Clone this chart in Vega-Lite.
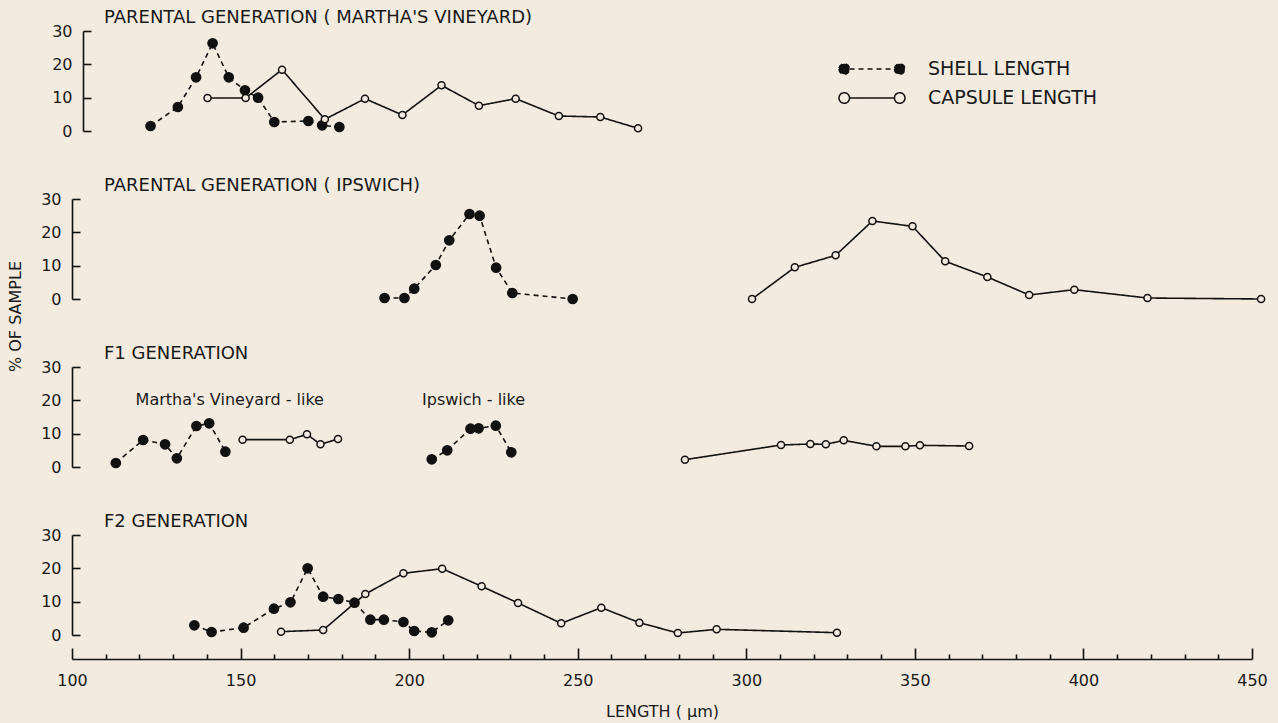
{
  "$schema": "https://vega.github.io/schema/vega-lite/v6.json",
  "background": "#f3ebdf",
  "padding": {"left": 7, "top": 9, "right": 10, "bottom": 4},
  "config": {
    "view": {"stroke": null},
    "font": "DejaVu Sans",
    "axis": {"labelFont": "DejaVu Sans", "titleFont": "DejaVu Sans", "labelColor": "#1a1a1a", "titleColor": "#1a1a1a", "domainColor": "#111", "tickColor": "#111", "domainWidth": 1.6, "tickWidth": 1.6, "titleFontWeight": "normal", "grid": false},
    "title": {"font": "DejaVu Sans", "fontWeight": "normal", "color": "#1a1a1a", "fontSize": 18}
  },
  "datasets": {
    "pts": [
      {"panel": "P1", "measure": "SHELL LENGTH", "group": "a", "length": 123.3, "pct": 1.5},
      {"panel": "P1", "measure": "SHELL LENGTH", "group": "a", "length": 131.4, "pct": 7.2},
      {"panel": "P1", "measure": "SHELL LENGTH", "group": "a", "length": 136.8, "pct": 16.1},
      {"panel": "P1", "measure": "SHELL LENGTH", "group": "a", "length": 141.7, "pct": 26.3},
      {"panel": "P1", "measure": "SHELL LENGTH", "group": "a", "length": 146.5, "pct": 16.1},
      {"panel": "P1", "measure": "SHELL LENGTH", "group": "a", "length": 151.3, "pct": 12.2},
      {"panel": "P1", "measure": "SHELL LENGTH", "group": "a", "length": 155.2, "pct": 10.0},
      {"panel": "P1", "measure": "SHELL LENGTH", "group": "a", "length": 160.0, "pct": 2.7},
      {"panel": "P1", "measure": "SHELL LENGTH", "group": "a", "length": 170.1, "pct": 3.0},
      {"panel": "P1", "measure": "SHELL LENGTH", "group": "a", "length": 174.2, "pct": 1.7},
      {"panel": "P1", "measure": "SHELL LENGTH", "group": "a", "length": 179.3, "pct": 1.2},
      {"panel": "P1", "measure": "CAPSULE LENGTH", "group": "a", "length": 140.2, "pct": 9.9},
      {"panel": "P1", "measure": "CAPSULE LENGTH", "group": "a", "length": 151.5, "pct": 9.9},
      {"panel": "P1", "measure": "CAPSULE LENGTH", "group": "a", "length": 162.3, "pct": 18.4},
      {"panel": "P1", "measure": "CAPSULE LENGTH", "group": "a", "length": 175.0, "pct": 3.5},
      {"panel": "P1", "measure": "CAPSULE LENGTH", "group": "a", "length": 186.9, "pct": 9.7},
      {"panel": "P1", "measure": "CAPSULE LENGTH", "group": "a", "length": 198.0, "pct": 4.8},
      {"panel": "P1", "measure": "CAPSULE LENGTH", "group": "a", "length": 209.6, "pct": 13.7},
      {"panel": "P1", "measure": "CAPSULE LENGTH", "group": "a", "length": 220.7, "pct": 7.6},
      {"panel": "P1", "measure": "CAPSULE LENGTH", "group": "a", "length": 231.6, "pct": 9.7},
      {"panel": "P1", "measure": "CAPSULE LENGTH", "group": "a", "length": 244.4, "pct": 4.5},
      {"panel": "P1", "measure": "CAPSULE LENGTH", "group": "a", "length": 256.7, "pct": 4.2},
      {"panel": "P1", "measure": "CAPSULE LENGTH", "group": "a", "length": 267.9, "pct": 0.8},

      {"panel": "P2", "measure": "SHELL LENGTH", "group": "a", "length": 192.7, "pct": 0.3},
      {"panel": "P2", "measure": "SHELL LENGTH", "group": "a", "length": 198.6, "pct": 0.3},
      {"panel": "P2", "measure": "SHELL LENGTH", "group": "a", "length": 201.5, "pct": 3.1},
      {"panel": "P2", "measure": "SHELL LENGTH", "group": "a", "length": 207.9, "pct": 10.2},
      {"panel": "P2", "measure": "SHELL LENGTH", "group": "a", "length": 211.9, "pct": 17.6},
      {"panel": "P2", "measure": "SHELL LENGTH", "group": "a", "length": 217.9, "pct": 25.5},
      {"panel": "P2", "measure": "SHELL LENGTH", "group": "a", "length": 220.9, "pct": 25.0},
      {"panel": "P2", "measure": "SHELL LENGTH", "group": "a", "length": 225.8, "pct": 9.4},
      {"panel": "P2", "measure": "SHELL LENGTH", "group": "a", "length": 230.6, "pct": 1.8},
      {"panel": "P2", "measure": "SHELL LENGTH", "group": "a", "length": 248.5, "pct": 0.0},
      {"panel": "P2", "measure": "CAPSULE LENGTH", "group": "a", "length": 301.7, "pct": 0.0},
      {"panel": "P2", "measure": "CAPSULE LENGTH", "group": "a", "length": 314.4, "pct": 9.5},
      {"panel": "P2", "measure": "CAPSULE LENGTH", "group": "a", "length": 326.5, "pct": 13.1},
      {"panel": "P2", "measure": "CAPSULE LENGTH", "group": "a", "length": 337.4, "pct": 23.4},
      {"panel": "P2", "measure": "CAPSULE LENGTH", "group": "a", "length": 349.3, "pct": 21.8},
      {"panel": "P2", "measure": "CAPSULE LENGTH", "group": "a", "length": 359.0, "pct": 11.3},
      {"panel": "P2", "measure": "CAPSULE LENGTH", "group": "a", "length": 371.5, "pct": 6.6},
      {"panel": "P2", "measure": "CAPSULE LENGTH", "group": "a", "length": 383.9, "pct": 1.2},
      {"panel": "P2", "measure": "CAPSULE LENGTH", "group": "a", "length": 397.3, "pct": 2.8},
      {"panel": "P2", "measure": "CAPSULE LENGTH", "group": "a", "length": 419.0, "pct": 0.3},
      {"panel": "P2", "measure": "CAPSULE LENGTH", "group": "a", "length": 452.7, "pct": 0.0},

      {"panel": "P3", "measure": "SHELL LENGTH", "group": "mv", "length": 113.0, "pct": 1.2},
      {"panel": "P3", "measure": "SHELL LENGTH", "group": "mv", "length": 121.1, "pct": 8.1},
      {"panel": "P3", "measure": "SHELL LENGTH", "group": "mv", "length": 127.6, "pct": 6.8},
      {"panel": "P3", "measure": "SHELL LENGTH", "group": "mv", "length": 131.1, "pct": 2.6},
      {"panel": "P3", "measure": "SHELL LENGTH", "group": "mv", "length": 136.9, "pct": 12.3},
      {"panel": "P3", "measure": "SHELL LENGTH", "group": "mv", "length": 140.7, "pct": 13.1},
      {"panel": "P3", "measure": "SHELL LENGTH", "group": "mv", "length": 145.5, "pct": 4.6},
      {"panel": "P3", "measure": "CAPSULE LENGTH", "group": "mv", "length": 150.6, "pct": 8.2},
      {"panel": "P3", "measure": "CAPSULE LENGTH", "group": "mv", "length": 164.6, "pct": 8.2},
      {"panel": "P3", "measure": "CAPSULE LENGTH", "group": "mv", "length": 169.7, "pct": 9.8},
      {"panel": "P3", "measure": "CAPSULE LENGTH", "group": "mv", "length": 173.7, "pct": 6.8},
      {"panel": "P3", "measure": "CAPSULE LENGTH", "group": "mv", "length": 178.9, "pct": 8.4},
      {"panel": "P3", "measure": "SHELL LENGTH", "group": "ip", "length": 206.7, "pct": 2.3},
      {"panel": "P3", "measure": "SHELL LENGTH", "group": "ip", "length": 211.3, "pct": 5.0},
      {"panel": "P3", "measure": "SHELL LENGTH", "group": "ip", "length": 218.2, "pct": 11.5},
      {"panel": "P3", "measure": "SHELL LENGTH", "group": "ip", "length": 220.6, "pct": 11.6},
      {"panel": "P3", "measure": "SHELL LENGTH", "group": "ip", "length": 225.7, "pct": 12.4},
      {"panel": "P3", "measure": "SHELL LENGTH", "group": "ip", "length": 230.3, "pct": 4.4},
      {"panel": "P3", "measure": "CAPSULE LENGTH", "group": "ip", "length": 281.8, "pct": 2.2},
      {"panel": "P3", "measure": "CAPSULE LENGTH", "group": "ip", "length": 310.3, "pct": 6.6},
      {"panel": "P3", "measure": "CAPSULE LENGTH", "group": "ip", "length": 319.0, "pct": 6.9},
      {"panel": "P3", "measure": "CAPSULE LENGTH", "group": "ip", "length": 323.6, "pct": 6.8},
      {"panel": "P3", "measure": "CAPSULE LENGTH", "group": "ip", "length": 328.9, "pct": 8.0},
      {"panel": "P3", "measure": "CAPSULE LENGTH", "group": "ip", "length": 338.6, "pct": 6.2},
      {"panel": "P3", "measure": "CAPSULE LENGTH", "group": "ip", "length": 347.2, "pct": 6.2},
      {"panel": "P3", "measure": "CAPSULE LENGTH", "group": "ip", "length": 351.5, "pct": 6.5},
      {"panel": "P3", "measure": "CAPSULE LENGTH", "group": "ip", "length": 366.1, "pct": 6.3},

      {"panel": "P4", "measure": "SHELL LENGTH", "group": "a", "length": 136.3, "pct": 2.9},
      {"panel": "P4", "measure": "SHELL LENGTH", "group": "a", "length": 141.4, "pct": 0.9},
      {"panel": "P4", "measure": "SHELL LENGTH", "group": "a", "length": 150.9, "pct": 2.2},
      {"panel": "P4", "measure": "SHELL LENGTH", "group": "a", "length": 159.9, "pct": 7.9},
      {"panel": "P4", "measure": "SHELL LENGTH", "group": "a", "length": 164.8, "pct": 9.8},
      {"panel": "P4", "measure": "SHELL LENGTH", "group": "a", "length": 169.9, "pct": 20.0},
      {"panel": "P4", "measure": "SHELL LENGTH", "group": "a", "length": 174.5, "pct": 11.5},
      {"panel": "P4", "measure": "SHELL LENGTH", "group": "a", "length": 179.0, "pct": 10.8},
      {"panel": "P4", "measure": "SHELL LENGTH", "group": "a", "length": 183.8, "pct": 9.7},
      {"panel": "P4", "measure": "SHELL LENGTH", "group": "a", "length": 188.5, "pct": 4.6},
      {"panel": "P4", "measure": "SHELL LENGTH", "group": "a", "length": 192.5, "pct": 4.6},
      {"panel": "P4", "measure": "SHELL LENGTH", "group": "a", "length": 198.3, "pct": 3.9},
      {"panel": "P4", "measure": "SHELL LENGTH", "group": "a", "length": 201.5, "pct": 1.2},
      {"panel": "P4", "measure": "SHELL LENGTH", "group": "a", "length": 206.7, "pct": 0.8},
      {"panel": "P4", "measure": "SHELL LENGTH", "group": "a", "length": 211.6, "pct": 4.4},
      {"panel": "P4", "measure": "CAPSULE LENGTH", "group": "a", "length": 162.0, "pct": 1.0},
      {"panel": "P4", "measure": "CAPSULE LENGTH", "group": "a", "length": 174.5, "pct": 1.5},
      {"panel": "P4", "measure": "CAPSULE LENGTH", "group": "a", "length": 187.0, "pct": 12.3},
      {"panel": "P4", "measure": "CAPSULE LENGTH", "group": "a", "length": 198.3, "pct": 18.5},
      {"panel": "P4", "measure": "CAPSULE LENGTH", "group": "a", "length": 209.8, "pct": 19.9},
      {"panel": "P4", "measure": "CAPSULE LENGTH", "group": "a", "length": 221.5, "pct": 14.6},
      {"panel": "P4", "measure": "CAPSULE LENGTH", "group": "a", "length": 232.3, "pct": 9.6},
      {"panel": "P4", "measure": "CAPSULE LENGTH", "group": "a", "length": 245.1, "pct": 3.5},
      {"panel": "P4", "measure": "CAPSULE LENGTH", "group": "a", "length": 257.0, "pct": 8.2},
      {"panel": "P4", "measure": "CAPSULE LENGTH", "group": "a", "length": 268.3, "pct": 3.7},
      {"panel": "P4", "measure": "CAPSULE LENGTH", "group": "a", "length": 279.7, "pct": 0.6},
      {"panel": "P4", "measure": "CAPSULE LENGTH", "group": "a", "length": 291.2, "pct": 1.7},
      {"panel": "P4", "measure": "CAPSULE LENGTH", "group": "a", "length": 326.9, "pct": 0.7}
    ],
    "notes": [
      {"label": "Martha's Vineyard - like", "length": 146.8, "pct": 18.6},
      {"label": "Ipswich - like", "length": 219.1, "pct": 18.6}
    ]
  },
  "bounds": "flush",
  "spacing": 68,
  "resolve": {
    "scale": {"x": "independent", "y": "independent", "strokeDash": "independent", "fill": "independent", "size": "independent"},
    "legend": {"strokeDash": "independent", "fill": "independent", "size": "independent"}
  },
  "vconcat": [
    {
      "width": 1180, "height": 100,
      "title": {"text": "PARENTAL GENERATION ( MARTHA'S VINEYARD)", "anchor": "start", "frame": "group", "dx": 32, "offset": -18, "baseline": "alphabetic"},
      "data": {"name": "pts"},
      "transform": [{"filter": "datum.panel == 'P1'"}],
      "encoding": {
        "x": {"field": "length", "type": "quantitative", "scale": {"domain": [100, 450], "nice": false, "zero": false}, "axis": null},
        "y": {"field": "pct", "type": "quantitative", "scale": {"domain": [0, 30], "nice": false}, "axis": {"values": [0, 10, 20, 30], "title": null, "tickSize": -8, "labelPadding": 19, "labelFontSize": 16, "offset": -11}}
      },
      "layer": [
        {
          "mark": {"type": "line", "stroke": "#111", "strokeWidth": 1.6},
          "encoding": {
            "detail": {"field": "group"},
            "strokeDash": {"field": "measure", "type": "nominal", "scale": {"domain": ["SHELL LENGTH", "CAPSULE LENGTH"], "range": [[5, 4], [1, 0]]},
              "legend": {"title": null, "orient": "none", "legendX": 766, "legendY": 30, "clipHeight": 16, "symbolType": "M-1,0A0.16,0.16,0,1,0,-0.68,0A0.16,0.16,0,1,0,-1,0M-0.68,0L0.68,0M0.68,0A0.16,0.16,0,1,0,1,0A0.16,0.16,0,1,0,0.68,0", "symbolSize": 4356, "symbolStrokeColor": "#111", "symbolStrokeWidth": 1.5, "rowPadding": 10, "labelFontSize": 19, "labelOffset": 22, "labelLimit": 400, "labelColor": "#1a1a1a", "labelFont": "DejaVu Sans"}}
          }
        },
        {
          "transform": [{"filter": "datum.measure == 'SHELL LENGTH'"}],
          "mark": {"type": "point", "filled": true, "stroke": "#111", "strokeWidth": 1.5, "opacity": 1, "size": 85},
          "encoding": {
            "fill": {"field": "measure", "type": "nominal", "scale": {"domain": ["SHELL LENGTH", "CAPSULE LENGTH"], "range": ["#111111", "#f3ebdf"]},
              "legend": {"title": null, "orient": "none", "legendX": 766, "legendY": 30, "clipHeight": 16, "symbolType": "M-1,0A0.16,0.16,0,1,0,-0.68,0A0.16,0.16,0,1,0,-1,0M-0.68,0L0.68,0M0.68,0A0.16,0.16,0,1,0,1,0A0.16,0.16,0,1,0,0.68,0", "symbolSize": 4356, "symbolStrokeColor": "#111", "symbolStrokeWidth": 1.5, "rowPadding": 10, "labelFontSize": 19, "labelOffset": 22, "labelLimit": 400, "labelColor": "#1a1a1a", "labelFont": "DejaVu Sans"}}
          }
        },
        {
          "transform": [{"filter": "datum.measure == 'CAPSULE LENGTH'"}],
          "mark": {"type": "point", "filled": true, "stroke": "#111", "strokeWidth": 1.5, "opacity": 1, "size": 50},
          "encoding": {
            "fill": {"field": "measure", "type": "nominal", "scale": {"domain": ["SHELL LENGTH", "CAPSULE LENGTH"], "range": ["#111111", "#f3ebdf"]},
              "legend": {"title": null, "orient": "none", "legendX": 766, "legendY": 30, "clipHeight": 16, "symbolType": "M-1,0A0.16,0.16,0,1,0,-0.68,0A0.16,0.16,0,1,0,-1,0M-0.68,0L0.68,0M0.68,0A0.16,0.16,0,1,0,1,0A0.16,0.16,0,1,0,0.68,0", "symbolSize": 4356, "symbolStrokeColor": "#111", "symbolStrokeWidth": 1.5, "rowPadding": 10, "labelFontSize": 19, "labelOffset": 22, "labelLimit": 400, "labelColor": "#1a1a1a", "labelFont": "DejaVu Sans"}}
          }
        }
      ]
    },
    {
      "width": 1180, "height": 100,
      "title": {"text": "PARENTAL GENERATION ( IPSWICH)", "anchor": "start", "frame": "group", "dx": 32, "offset": -18, "baseline": "alphabetic"},
      "data": {"name": "pts"},
      "transform": [{"filter": "datum.panel == 'P2'"}],
      "encoding": {
        "x": {"field": "length", "type": "quantitative", "scale": {"domain": [100, 450], "nice": false, "zero": false}, "axis": null},
        "y": {"field": "pct", "type": "quantitative", "scale": {"domain": [0, 30], "nice": false}, "axis": {"values": [0, 10, 20, 30], "title": "% OF SAMPLE", "titleAngle": 270, "titleX": -57, "titleY": 117, "titleAlign": "center", "titleBaseline": "middle", "titleFontSize": 16, "tickSize": -8, "labelPadding": 19, "labelFontSize": 16}}
      },
      "layer": [
        {
          "mark": {"type": "line", "stroke": "#111", "strokeWidth": 1.6},
          "encoding": {
            "detail": {"field": "group"},
            "strokeDash": {"field": "measure", "type": "nominal", "scale": {"domain": ["SHELL LENGTH", "CAPSULE LENGTH"], "range": [[5, 4], [1, 0]]}, "legend": null}
          }
        },
        {
          "mark": {"type": "point", "filled": true, "stroke": "#111", "strokeWidth": 1.5, "opacity": 1},
          "encoding": {
            "fill": {"field": "measure", "type": "nominal", "scale": {"domain": ["SHELL LENGTH", "CAPSULE LENGTH"], "range": ["#111111", "#f3ebdf"]}, "legend": null},
            "size": {"field": "measure", "type": "nominal", "scale": {"domain": ["SHELL LENGTH", "CAPSULE LENGTH"], "range": [85, 50]}, "legend": null}
          }
        }
      ]
    },
    {
      "width": 1180, "height": 100,
      "title": {"text": "F1 GENERATION", "anchor": "start", "frame": "group", "dx": 32, "offset": -18, "baseline": "alphabetic"},
      "encoding": {
        "x": {"field": "length", "type": "quantitative", "scale": {"domain": [100, 450], "nice": false, "zero": false}, "axis": null},
        "y": {"field": "pct", "type": "quantitative", "scale": {"domain": [0, 30], "nice": false}, "axis": {"values": [0, 10, 20, 30], "title": null, "tickSize": -8, "labelPadding": 19, "labelFontSize": 16}}
      },
      "layer": [
        {
          "data": {"name": "pts"},
          "transform": [{"filter": "datum.panel == 'P3'"}],
          "mark": {"type": "line", "stroke": "#111", "strokeWidth": 1.6},
          "encoding": {
            "detail": {"field": "group"},
            "strokeDash": {"field": "measure", "type": "nominal", "scale": {"domain": ["SHELL LENGTH", "CAPSULE LENGTH"], "range": [[5, 4], [1, 0]]}, "legend": null}
          }
        },
        {
          "data": {"name": "pts"},
          "transform": [{"filter": "datum.panel == 'P3'"}],
          "mark": {"type": "point", "filled": true, "stroke": "#111", "strokeWidth": 1.5, "opacity": 1},
          "encoding": {
            "fill": {"field": "measure", "type": "nominal", "scale": {"domain": ["SHELL LENGTH", "CAPSULE LENGTH"], "range": ["#111111", "#f3ebdf"]}, "legend": null},
            "size": {"field": "measure", "type": "nominal", "scale": {"domain": ["SHELL LENGTH", "CAPSULE LENGTH"], "range": [85, 50]}, "legend": null}
          }
        },
        {
          "data": {"name": "notes"},
          "mark": {"type": "text", "fontSize": 16, "baseline": "alphabetic", "align": "center", "color": "#1a1a1a", "font": "DejaVu Sans"},
          "encoding": {"text": {"field": "label"}}
        }
      ]
    },
    {
      "width": 1180, "height": 100,
      "title": {"text": "F2 GENERATION", "anchor": "start", "frame": "group", "dx": 32, "offset": -18, "baseline": "alphabetic"},
      "data": {"name": "pts"},
      "transform": [{"filter": "datum.panel == 'P4'"}],
      "encoding": {
        "x": {"field": "length", "type": "quantitative", "scale": {"domain": [100, 450], "nice": false, "zero": false},
          "axis": {"values": [100, 110, 120, 130, 140, 150, 160, 170, 180, 190, 200, 210, 220, 230, 240, 250, 260, 270, 280, 290, 300, 310, 320, 330, 340, 350, 360, 370, 380, 390, 400, 410, 420, 430, 440, 450],
            "labelExpr": "datum.value % 50 == 0 ? datum.label : ''", "tickSize": {"condition": {"test": "datum.value % 50 == 0", "value": -11}, "value": -5},
            "offset": 24, "labelPadding": 24, "labelFontSize": 16, "labelOverlap": false, "labelFlush": false, "title": "LENGTH ( µm)", "titleFontSize": 16, "titlePadding": 9}},
        "y": {"field": "pct", "type": "quantitative", "scale": {"domain": [0, 30], "nice": false}, "axis": {"values": [0, 10, 20, 30], "title": null, "tickSize": -8, "labelPadding": 19, "labelFontSize": 16}}
      },
      "layer": [
        {
          "mark": {"type": "line", "stroke": "#111", "strokeWidth": 1.6},
          "encoding": {
            "detail": {"field": "group"},
            "strokeDash": {"field": "measure", "type": "nominal", "scale": {"domain": ["SHELL LENGTH", "CAPSULE LENGTH"], "range": [[5, 4], [1, 0]]}, "legend": null}
          }
        },
        {
          "mark": {"type": "point", "filled": true, "stroke": "#111", "strokeWidth": 1.5, "opacity": 1},
          "encoding": {
            "fill": {"field": "measure", "type": "nominal", "scale": {"domain": ["SHELL LENGTH", "CAPSULE LENGTH"], "range": ["#111111", "#f3ebdf"]}, "legend": null},
            "size": {"field": "measure", "type": "nominal", "scale": {"domain": ["SHELL LENGTH", "CAPSULE LENGTH"], "range": [85, 50]}, "legend": null}
          }
        }
      ]
    }
  ]
}
